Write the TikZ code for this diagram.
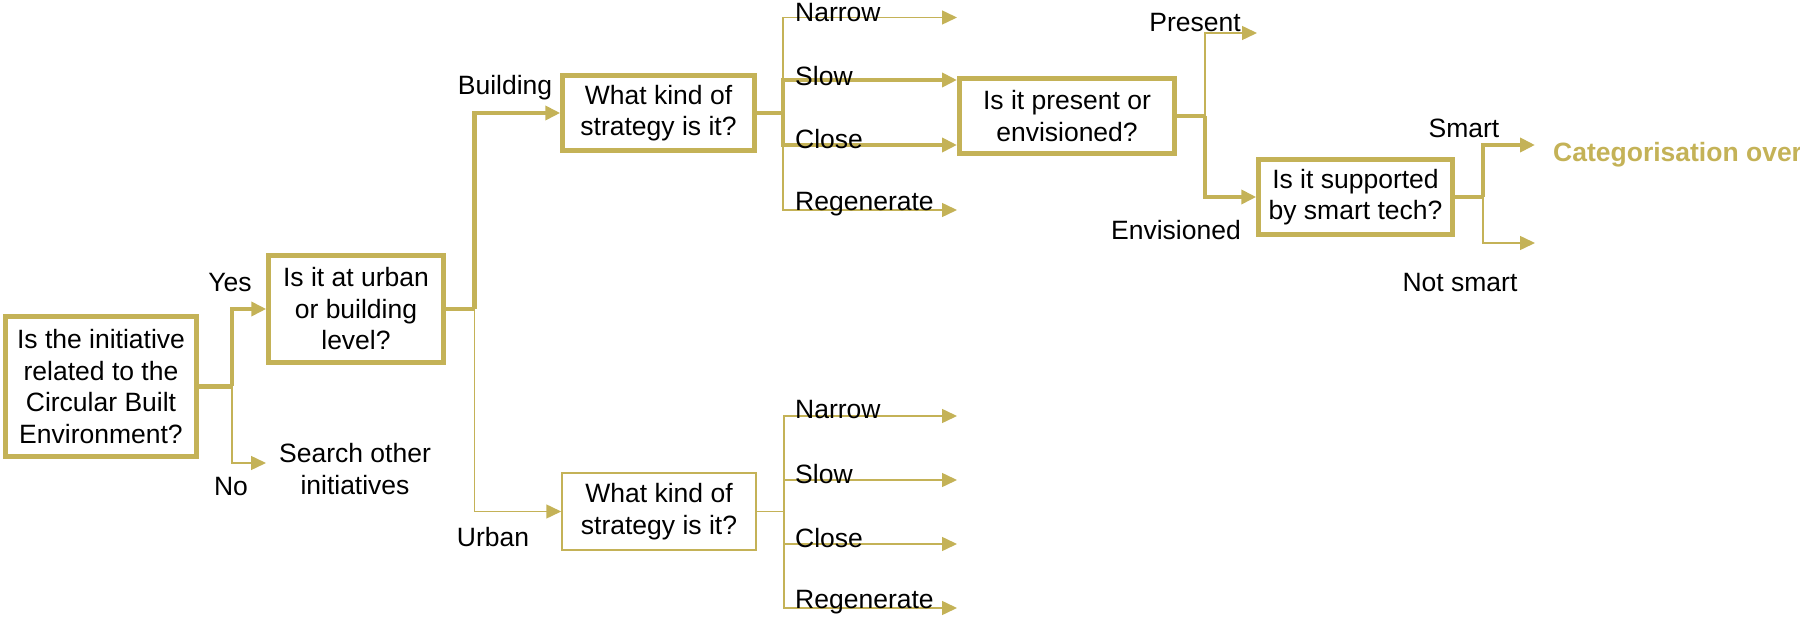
\documentclass[tikz,border=0pt]{standalone}
\usepackage{fontspec}
\setmainfont{Liberation Sans}
\usetikzlibrary{arrows.meta}
\definecolor{gold}{RGB}{196,178,87}
\newcommand\qfont{\fontsize{26.5}{31.5}\selectfont}
\tikzset{
  box/.style={draw=gold, line width=4.5pt, align=center, inner sep=0pt, font=\qfont, text=black},
  thinbox/.style={box, line width=1.5pt},
  lbl/.style={font=\qfont, inner sep=0pt, text=black},
  heavy/.style={draw=gold, line width=4.5pt},
  light/.style={draw=gold, line width=1.5pt},
  tip/.style={-{Triangle[length=15pt,width=14pt]}, color=gold},
}
\begin{document}
\begin{tikzpicture}[x=1pt,y=-1pt]
\useasboundingbox (0,0) rectangle (1800,617);

% question boxes
\node[box, minimum width=191pt, minimum height=140pt] (b1) at (101,386.5)
  {Is the initiative\\related to the\\Circular Built\\Environment?};
\node[box, minimum width=175pt, minimum height=107pt] (b2) at (356,309)
  {Is it at urban\\or building\\level?};
\node[box, minimum width=192pt, minimum height=75pt] (b3) at (658.5,113)
  {What kind of\\strategy is it?};
\node[thinbox, minimum width=194pt, minimum height=77pt] (b4) at (659,511.5)
  {What kind of\\strategy is it?};
\node[box, minimum width=215pt, minimum height=75pt] (b5) at (1067,116)
  {Is it present or\\envisioned?};
\node[box, minimum width=194pt, minimum height=75pt] (b6) at (1355.5,197)
  {Is it supported\\by smart tech?};

% junctions and free arrow ends
\coordinate (j1) at (232,386.5);
\coordinate (j2) at (474.5,309);
\coordinate (j3) at (783,113);
\coordinate (j4) at (784,511.5);
\coordinate (j5) at (1205,116);
\coordinate (j6) at (1483,197);
\coordinate (noend) at (266,463);
\coordinate (bn) at (957,17.5);
\coordinate (bs) at (957,80);
\coordinate (bc) at (957,145);
\coordinate (br) at (957,210);
\coordinate (un) at (957,416);
\coordinate (us) at (957,480);
\coordinate (uc) at (957,544);
\coordinate (ur) at (957,608);
\coordinate (pe) at (1257,33);
\coordinate (sm) at (1535,145);
\coordinate (ns) at (1535,243);

% connectors
\draw[heavy] (b1.east) -- (j1);
\draw[heavy,tip] (j1) |- (b2.west);
\draw[light,tip] (j1) |- (noend);

\draw[heavy] (b2.east) -- (j2);
\draw[heavy,tip] (j2) |- (b3.west);
\draw[light,tip] (j2) |- (b4.west);

\draw[heavy] (b3.east) -- (j3);
\draw[light,tip] (j3) |- (bn);
\draw[light,tip] (j3) |- (br);
\draw[heavy,tip] (j3) |- (bs);
\draw[heavy,tip] (j3) |- (bc);

\draw[light] (b4.east) -- (j4);
\draw[light,tip] (j4) |- (un);
\draw[light,tip] (j4) |- (us);
\draw[light,tip] (j4) |- (uc);
\draw[light,tip] (j4) |- (ur);

\draw[heavy] (b5.east) -- (j5);
\draw[light,tip] (j5) |- (pe);
\draw[heavy,tip] (j5) |- (b6.west);

\draw[heavy] (b6.east) -- (j6);
\draw[heavy,tip] (j6) |- (sm);
\draw[light,tip] (j6) |- (ns);

% branch labels
\node[lbl] (yes) at (230,283) {Yes};
\node[lbl] (no) at (231,487) {No};
\node[lbl, align=center] (search) at (355,469) {Search other\\initiatives};
\node[lbl] (building) at (505,88) {Building};
\node[lbl] (urban) at (493,537) {Urban};
\node[lbl, anchor=west] (bnl) at (795,12.5) {Narrow};
\node[lbl, anchor=west] (bsl) at (795,76) {Slow};
\node[lbl, anchor=west] (bcl) at (795,139) {Close};
\node[lbl, anchor=west] (brl) at (795,204) {Regenerate};
\node[lbl, anchor=west] (unl) at (795,410) {Narrow};
\node[lbl, anchor=west] (usl) at (795,474) {Slow};
\node[lbl, anchor=west] (ucl) at (795,538) {Close};
\node[lbl, anchor=west] (url) at (795,602) {Regenerate};
\node[lbl] (present) at (1195,23) {Present};
\node[lbl] (envis) at (1176,230) {Envisioned};
\node[lbl] (smart) at (1464,128) {Smart};
\node[lbl] (notsmart) at (1460,283) {Not smart};
\node[lbl, anchor=west, text=gold, font=\qfont\bfseries] (cat) at (1553,155) {Categorisation over};
\end{tikzpicture}
\end{document}
